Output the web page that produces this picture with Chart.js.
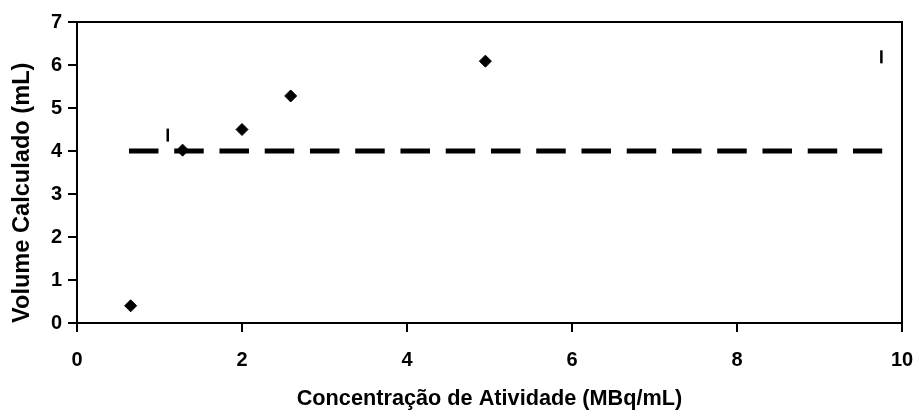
<!DOCTYPE html>
<html>
<head>
<meta charset="utf-8">
<script src="https://cdn.jsdelivr.net/npm/chart.js@4"></script>
<style>
  html, body { margin: 0; padding: 0; background: #fff; }
  #wrap { width: 915px; height: 412px; }
</style>
</head>
<body>
<div id="wrap"><canvas id="volumeChart" width="915" height="412"></canvas></div>
<script>
// valores
const concMedidos = [0.65, 1.28, 2.0, 2.59, 4.95];
const volMedidos = [0.40, 4.02, 4.5, 5.28, 6.09];
const concMarcas = [1.1, 9.75];
const volMarcas = [4.37, 6.19];
const concReferencia = [0.63, 9.76];
const volReferencia = [4, 4];
const xTicks = [0, 2, 4, 6, 8, 10];
const yTicks = [0, 1, 2, 3, 4, 5, 6, 7];

const fonte = '"Liberation Sans", Arial, sans-serif';

function pares(xs, ys) {
    return xs.map((x, i) => ({ x: x, y: ys[i] }));
}

// moldura da área do gráfico (topo e direita)
const moldura = {
    id: 'moldura',
    beforeDatasetsDraw(chart) {
        const a = chart.chartArea;
        const ctx = chart.ctx;
        ctx.save();
        ctx.strokeStyle = '#000';
        ctx.lineWidth = 2;
        ctx.strokeRect(a.left, a.top, a.right - a.left, a.bottom - a.top);
        ctx.restore();
    }
};

document.addEventListener('DOMContentLoaded', function() {
    const ctx = document.getElementById('volumeChart');

    new Chart(ctx, {
        type: 'scatter',
        data: {
            datasets: [
                {
                    label: 'Volume',
                    data: pares(concMedidos, volMedidos),
                    pointStyle: 'rectRot',
                    pointRadius: 6,
                    backgroundColor: '#000',
                    borderColor: '#000',
                    borderWidth: 1,
                    order: 2
                },
                {
                    label: 'Marcas',
                    data: pares(concMarcas, volMarcas),
                    pointStyle: 'line',
                    rotation: 90,
                    pointRadius: 6.5,
                    borderColor: '#000',
                    borderWidth: 2.5,
                    order: 3
                },
                {
                    label: 'Referência',
                    data: pares(concReferencia, volReferencia),
                    showLine: true,
                    borderColor: '#000',
                    borderWidth: 5,
                    borderDash: [29.5, 15.75],
                    borderCapStyle: 'butt',
                    pointRadius: 0,
                    fill: false,
                    order: 1
                }
            ]
        },
        options: {
            responsive: false,
            animation: false,
            layout: {
                padding: { top: 22, right: 13, left: 0, bottom: 0 }
            },
            plugins: {
                legend: { display: false },
                tooltip: { enabled: false }
            },
            scales: {
                x: {
                    type: 'linear',
                    min: 0,
                    max: 10,
                    afterFit: function(scale) {
                        scale.height = 89;
                        scale.paddingLeft = 0;
                        scale.paddingRight = 0;
                    },
                    afterBuildTicks: function(scale) {
                        scale.ticks = xTicks.map(v => ({ value: v }));
                    },
                    ticks: {
                        color: '#000',
                        padding: 16,
                        maxRotation: 0,
                        font: { family: fonte, size: 20, weight: 'bold' }
                    },
                    grid: {
                        drawOnChartArea: false,
                        drawTicks: true,
                        tickLength: 9,
                        color: '#000',
                        lineWidth: 2
                    },
                    border: { display: true, color: '#000', width: 2 },
                    title: {
                        display: true,
                        text: 'Concentração de Atividade (MBq/mL)',
                        color: '#000',
                        padding: { top: 0, bottom: 0 },
                        font: { family: fonte, size: 21.7, weight: 'bold' }
                    }
                },
                y: {
                    type: 'linear',
                    min: 0,
                    max: 7,
                    afterFit: function(scale) {
                        scale.width = 77;
                        scale.paddingTop = 0;
                        scale.paddingBottom = 0;
                    },
                    afterBuildTicks: function(scale) {
                        scale.ticks = yTicks.map(v => ({ value: v }));
                    },
                    ticks: {
                        color: '#000',
                        padding: 6,
                        font: { family: fonte, size: 20, weight: 'bold' }
                    },
                    grid: {
                        drawOnChartArea: false,
                        drawTicks: true,
                        tickLength: 9,
                        color: '#000',
                        lineWidth: 2
                    },
                    border: { display: true, color: '#000', width: 2 },
                    title: {
                        display: true,
                        text: 'Volume Calculado (mL)',
                        color: '#000',
                        align: 'start',
                        padding: { top: 8, bottom: 0 },
                        font: { family: fonte, size: 23.6, weight: 'bold' }
                    }
                }
            }
        },
        plugins: [moldura]
    });
});
</script>
</body>
</html>
